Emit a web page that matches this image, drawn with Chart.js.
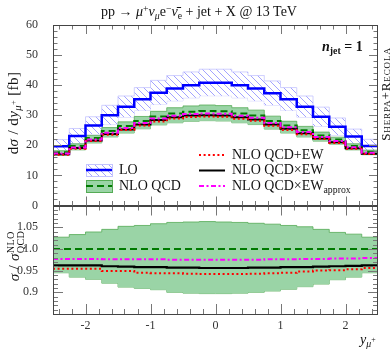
<!DOCTYPE html>
<html>
<head>
<meta charset="utf-8">
<script src="https://cdn.jsdelivr.net/npm/chart.js@4.4.1/dist/chart.umd.min.js"></script>
<style>
body { margin: 0; background: #fff; }
#wrap { position: relative; width: 392px; height: 350px; font-family: "Liberation Serif", serif; color: #111; overflow: hidden; }
canvas { position: absolute; left: 0; }
.t { position: absolute; white-space: nowrap; line-height: 1; }
.rot { transform: translate(-50%, -50%) rotate(-90deg); }
.sp { position: relative; top: -0.45em; font-size: 0.7em; }
.sb { position: relative; top: 0.3em; font-size: 0.7em; }
.stk { display: inline-block; vertical-align: middle; font-size: 0.68em; line-height: 0.95; text-align: left; }
</style>
</head>
<body>
<div id="wrap">
  <canvas id="top" width="392" height="210" style="top:0"></canvas>
  <canvas id="bot" width="392" height="145" style="top:205px"></canvas>

  <div class="t" style="left:101px;top:5px;font-size:14px">pp → <i>μ</i><span class="sp">+</span><i>ν</i><span class="sb"><i>μ</i></span>e<span class="sp">−</span><i>ν̄</i><span class="sb">e</span> + jet + X @ 13 TeV</div>
  <div class="t" style="left:322px;top:40px;font-size:14px;font-weight:bold"><i>n</i><span class="sb">jet</span> = 1</div>
  <div class="t rot" style="left:385px;top:94px;font-size:13px;font-variant:small-caps;letter-spacing:0.9px">Sherpa+Recola</div>
  <div class="t rot" style="left:13px;top:113px;font-size:15px;letter-spacing:0.4px">d<i>σ</i> / d<i>y</i><span class="sb"><i>μ</i><span style="font-size:0.8em;position:relative;top:-0.6em">+</span></span> [fb]</div>
  <div class="t rot" style="left:16px;top:256px;font-size:15px;letter-spacing:0.3px"><i>σ</i> / <i>σ</i><span class="stk">NLO<br>QCD</span></div>
  <div class="t" style="left:360px;top:333px;font-size:14px"><i>y</i><span class="sb"><i>μ</i><span style="font-size:0.8em;position:relative;top:-0.6em">+</span></span></div>

  <div class="t" style="left:119px;top:163px;font-size:14px">LO</div>
  <div class="t" style="left:119px;top:179px;font-size:14px">NLO QCD</div>
  <div class="t" style="left:232px;top:148px;font-size:14px">NLO QCD+EW</div>
  <div class="t" style="left:232px;top:163px;font-size:14px">NLO QCD×EW</div>
  <div class="t" style="left:232px;top:179px;font-size:14px">NLO QCD×EW<span class="sb">approx</span></div>
</div>

<script>
// bin edges in y_mu+
const edges = [-2.5, -2.25, -2, -1.75, -1.5, -1.25, -1, -0.75, -0.5, -0.25, 0,
               0.25, 0.5, 0.75, 1, 1.25, 1.5, 1.75, 2, 2.25, 2.5];

// upper panel, dsigma/dy [fb]
const lo      = [19.7, 23.1, 26.6, 30.0, 32.8, 35.3, 37.5, 38.9, 40.0, 40.8, 40.8, 40.0, 38.9, 37.3, 35.3, 32.8, 29.5, 26.2, 22.9, 19.8];
const loUp    = [21.9, 25.6, 29.5, 33.3, 36.4, 39.2, 41.6, 43.2, 44.4, 45.3, 45.3, 44.4, 43.2, 41.4, 39.2, 36.4, 32.7, 29.1, 25.4, 22.0];
const loDown  = [17.6, 20.7, 23.8, 26.9, 29.4, 31.6, 33.6, 34.8, 35.8, 36.5, 36.5, 35.8, 34.8, 33.4, 31.6, 29.4, 26.4, 23.4, 20.5, 17.7];
const nlo     = [17.7, 19.8, 22.4, 24.8, 26.4, 28.1, 29.6, 30.6, 31.2, 31.4, 31.3, 30.6, 29.9, 28.1, 26.6, 25.0, 23.3, 21.9, 19.8, 17.9];
const nloUp   = [18.2, 20.5, 23.3, 25.9, 27.8, 29.6, 31.3, 32.5, 33.1, 33.4, 33.2, 32.5, 31.7, 29.7, 28.0, 26.3, 24.4, 22.7, 20.5, 18.4];
const nloDown = [16.7, 18.5, 20.8, 22.8, 24.1, 25.5, 26.8, 27.5, 28.0, 28.2, 28.1, 27.5, 26.9, 25.4, 24.1, 22.8, 21.4, 20.4, 18.5, 16.9];
const ewAdd   = [16.9, 18.9, 21.4, 23.5, 25.1, 26.6, 27.9, 28.9, 29.4, 29.6, 29.5, 28.8, 28.2, 26.5, 25.1, 23.7, 22.1, 20.8, 18.9, 17.1];
const ewMul   = [17.0, 19.1, 21.6, 23.8, 25.3, 26.9, 28.4, 29.3, 29.9, 30.0, 29.9, 29.3, 28.6, 26.9, 25.5, 24.0, 22.3, 21.0, 19.0, 17.2];
const ewApprox= [17.3, 19.3, 21.9, 24.2, 25.8, 27.4, 28.9, 29.8, 30.4, 30.6, 30.5, 29.8, 29.2, 27.4, 26.0, 24.4, 22.8, 21.4, 19.4, 17.5];

// lower panel, ratio to NLO QCD
const rNlo      = [1, 1, 1, 1, 1, 1, 1, 1, 1, 1, 1, 1, 1, 1, 1, 1, 1, 1, 1, 1];
const rNloUp    = [1.027, 1.033, 1.039, 1.045, 1.052, 1.054, 1.058, 1.061, 1.062, 1.063, 1.062, 1.061, 1.059, 1.057, 1.054, 1.051, 1.045, 1.038, 1.034, 1.027];
const rNloDown  = [0.945, 0.935, 0.930, 0.921, 0.912, 0.909, 0.906, 0.900, 0.898, 0.897, 0.897, 0.898, 0.900, 0.903, 0.907, 0.913, 0.919, 0.929, 0.935, 0.945];
const rEwAdd    = [0.954, 0.954, 0.954, 0.949, 0.949, 0.945, 0.944, 0.944, 0.943, 0.942, 0.942, 0.942, 0.943, 0.944, 0.945, 0.948, 0.950, 0.951, 0.953, 0.956];
const rEwMul    = [0.962, 0.962, 0.962, 0.960, 0.959, 0.958, 0.958, 0.957, 0.957, 0.956, 0.956, 0.956, 0.957, 0.957, 0.958, 0.958, 0.959, 0.960, 0.961, 0.962];
const rEwApprox = [0.977, 0.977, 0.977, 0.976, 0.976, 0.976, 0.976, 0.975, 0.975, 0.975, 0.975, 0.975, 0.975, 0.976, 0.976, 0.977, 0.977, 0.978, 0.978, 0.979];

const xTicks = [-2, -1, 0, 1, 2];
const yTicksTop = [0, 10, 20, 30, 40, 50, 60];
const yTicksBot = [0.9, 0.95, 1.0, 1.05];
const yLabelsBot = ['0.9', '0.95', '1.0', '1.05'];

const GREEN_FILL = '#9ad4a6';
const GREEN_EDGE = '#55ab55';
const tickFont = { family: 'Liberation Serif', size: 12 };

// histogram points: one per left edge, plus the last right edge
function hist(vals) {
    return edges.map((x, i) => ({ x: x, y: vals[Math.min(i, vals.length - 1)] }));
}

function line(vals, color, width, dash, order) {
    return {
        data: hist(vals), borderColor: color, borderWidth: width, borderDash: dash || [],
        borderCapStyle: 'butt', stepped: 'before', pointRadius: 0, fill: false, order: order
    };
}

function band(vals, fillStyle, edge, order, fill) {
    return {
        data: hist(vals), borderColor: edge, borderWidth: 0.8, backgroundColor: fillStyle,
        stepped: 'before', pointRadius: 0, fill: fill, order: order
    };
}

function hatch() {
    const s = 7;
    const c = document.createElement('canvas');
    c.width = s; c.height = s;
    const g = c.getContext('2d');
    g.fillStyle = '#fff';
    g.fillRect(0, 0, s, s);
    g.strokeStyle = '#a3a3ff';
    g.lineWidth = 1;
    g.beginPath();
    g.moveTo(-1, -1); g.lineTo(s + 1, s + 1);
    g.moveTo(-1, s - 1); g.lineTo(1, s + 1);
    g.moveTo(s - 1, -1); g.lineTo(s + 1, 1);
    g.stroke();
    return g.createPattern(c, 'repeat');
}
const hatchPattern = hatch();

// frame with inward ticks on all four sides, plus legend samples
const frame = {
    id: 'frame',
    afterDatasetsDraw(chart, args, o) {
        const { ctx, chartArea: a } = chart;
        const sx = chart.scales.x, sy = chart.scales.y;
        ctx.save();
        ctx.strokeStyle = '#777';
        ctx.lineWidth = 1;
        ctx.beginPath();
        for (let i = -12; i <= 12; i++) {
            const p = Math.round(sx.getPixelForValue(i * 0.2)) + 0.5;
            const L = i % 5 === 0 ? o.major : o.minor;
            ctx.moveTo(p, a.top); ctx.lineTo(p, a.top + L);
            ctx.moveTo(p, a.bottom); ctx.lineTo(p, a.bottom - L);
        }
        for (let i = o.yFrom; i <= o.yTo; i++) {
            const p = Math.round(sy.getPixelForValue(i * o.yStep)) + 0.5;
            const L = i % 5 === 0 ? o.major : o.minor;
            ctx.moveTo(a.left, p); ctx.lineTo(a.left + L, p);
            ctx.moveTo(a.right, p); ctx.lineTo(a.right - L, p);
        }
        ctx.stroke();
        ctx.strokeStyle = '#444';
        ctx.strokeRect(Math.round(a.left) + 0.5, Math.round(a.top) + 0.5,
                       Math.round(a.right - a.left) - 1, Math.round(a.bottom - a.top) - 1);

        if (o.legend) {
            // LO sample
            ctx.fillStyle = hatchPattern;
            ctx.fillRect(86, 164, 26, 12);
            ctx.strokeStyle = '#c4c4ff';
            ctx.strokeRect(86.5, 164.5, 26, 12);
            ctx.strokeStyle = '#0000ff';
            ctx.lineWidth = 2.5;
            ctx.beginPath(); ctx.moveTo(86, 170); ctx.lineTo(112, 170); ctx.stroke();
            // NLO QCD sample
            ctx.fillStyle = GREEN_FILL;
            ctx.fillRect(86, 180, 26, 12);
            ctx.strokeStyle = GREEN_EDGE; ctx.lineWidth = 1;
            ctx.strokeRect(86.5, 180.5, 26, 12);
            ctx.strokeStyle = '#007a00'; ctx.lineWidth = 2;
            ctx.setLineDash([7, 4]);
            ctx.beginPath(); ctx.moveTo(86, 186); ctx.lineTo(112, 186); ctx.stroke();
            // EW samples
            ctx.strokeStyle = '#ff0000'; ctx.setLineDash([2, 2.6]);
            ctx.beginPath(); ctx.moveTo(199, 155); ctx.lineTo(225, 155); ctx.stroke();
            ctx.strokeStyle = '#000'; ctx.setLineDash([]);
            ctx.beginPath(); ctx.moveTo(199, 170.5); ctx.lineTo(225, 170.5); ctx.stroke();
            ctx.strokeStyle = '#ff00ff'; ctx.setLineDash([5, 2.5, 2, 2.5]);
            ctx.beginPath(); ctx.moveTo(199, 186); ctx.lineTo(225, 186); ctx.stroke();
        }
        ctx.restore();
    }
};

function yScale(min, max, ticks, labels) {
    return {
        min: min, max: max,
        grid: { display: false }, border: { display: false },
        ticks: { padding: 7, font: tickFont, color: '#333',
                 callback: (v, i) => labels ? labels[i] : String(v) },
        afterBuildTicks: s => { s.ticks = ticks.map(v => ({ value: v })); },
        afterFit: s => { s.width = 53; s.paddingTop = 0; s.paddingBottom = 0; }
    };
}

new Chart(document.getElementById('top'), {
    type: 'line',
    data: {
        datasets: [
            line(ewApprox, '#ff00ff', 2, [5, 2.5, 2, 2.5], 1),
            line(ewAdd, '#ff0000', 2, [2, 2.6], 2),
            line(ewMul, '#000000', 2, [], 3),
            line(nlo, '#007a00', 2, [7, 4], 4),
            line(lo, '#0000ff', 2.5, [], 5),
            band(nloUp, GREEN_FILL, GREEN_EDGE, 8, '+1'),
            band(nloDown, GREEN_FILL, GREEN_EDGE, 8, false),
            band(loUp, hatchPattern, '#c4c4ff', 10, '+1'),
            band(loDown, hatchPattern, '#c4c4ff', 10, false)
        ]
    },
    options: {
        responsive: false,
        animation: false,
        events: [],
        layout: { padding: { top: 25, right: 14, bottom: 4.5, left: 0 } },
        plugins: {
            legend: { display: false },
            tooltip: { enabled: false },
            frame: { major: 9, minor: 4.5, yFrom: 1, yTo: 29, yStep: 2, legend: true }
        },
        scales: {
            x: { type: 'linear', min: -2.5, max: 2.5, display: false },
            y: yScale(0, 60, yTicksTop)
        }
    },
    plugins: [frame]
});

new Chart(document.getElementById('bot'), {
    type: 'line',
    data: {
        datasets: [
            line(rEwAdd, '#ff0000', 2, [2, 2.6], 1),
            line(rEwMul, '#000000', 2.2, [], 2),
            line(rEwApprox, '#ff00ff', 2, [5, 2.5, 2, 2.5], 3),
            line(rNlo, '#007a00', 2, [7, 4], 4),
            band(rNloUp, GREEN_FILL, GREEN_EDGE, 8, '+1'),
            band(rNloDown, GREEN_FILL, GREEN_EDGE, 8, false)
        ]
    },
    options: {
        responsive: false,
        animation: false,
        events: [],
        layout: { padding: { top: 0.5, right: 14, bottom: 0, left: 0 } },
        plugins: {
            legend: { display: false },
            tooltip: { enabled: false },
            frame: { major: 10, minor: 5, yFrom: 86, yTo: 109, yStep: 0.01, legend: false }
        },
        scales: {
            x: {
                type: 'linear', min: -2.5, max: 2.5,
                grid: { display: false }, border: { display: false },
                ticks: { padding: -3, font: tickFont, color: '#333', callback: v => String(v) },
                afterBuildTicks: s => { s.ticks = xTicks.map(v => ({ value: v })); },
                afterFit: s => { s.height = 36; s.paddingLeft = 0; s.paddingRight = 0; }
            },
            y: yScale(0.85, 1.1, yTicksBot, yLabelsBot)
        }
    },
    plugins: [frame]
});
</script>
</body>
</html>
